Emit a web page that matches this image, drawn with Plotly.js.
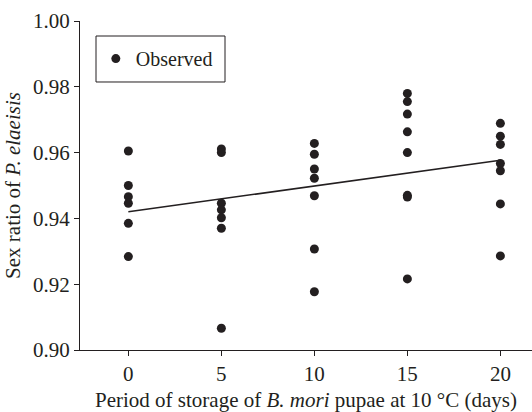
<!DOCTYPE html>
<html>
<head>
<meta charset="utf-8">
<script src="https://cdn.plot.ly/plotly-3.0.1.min.js"></script>
<style>html,body{margin:0;padding:0;background:#fff;}#chart{width:532px;height:412px;}</style>
</head>
<body>
<div id="chart"></div>
<script>
// Storage period (days) and observed sex ratios per group
const day0 = [0.9605, 0.9500, 0.9466, 0.9446, 0.9385, 0.9284];
const day5 = [0.9611, 0.9600, 0.9446, 0.9426, 0.9402, 0.9370, 0.9066];
const day10 = [0.9628, 0.9595, 0.9550, 0.9522, 0.9469, 0.9307, 0.9177];
const day15 = [0.9780, 0.9755, 0.9717, 0.9663, 0.9600, 0.9470, 0.9465, 0.9216];
const day20 = [0.9689, 0.9650, 0.9625, 0.9567, 0.9545, 0.9444, 0.9286];
const periods = [0, 5, 10, 15, 20];
const groups = [day0, day5, day10, day15, day20];
// Fitted regression line endpoints
const fitX = [0, 20];
const fitY = [0.9420, 0.9577];
const yTicks = [0.90, 0.92, 0.94, 0.96, 0.98, 1.00];

const obsX = [], obsY = [];
groups.forEach((g, i) => g.forEach(v => { obsX.push(periods[i]); obsY.push(v); }));

const ink = '#231f20';
const fam = '"Liberation Serif", "Times New Roman", serif';
const titleFont = {family: fam, size: 21, color: ink};
const tickFont = {family: fam, size: 21, color: ink};
const legFont = {family: fam, size: 20, color: ink};

const data = [
  {x: obsX, y: obsY, type: 'scatter', mode: 'markers', name: 'Observed',
   marker: {color: ink, size: 9}},
  {x: fitX, y: fitY, type: 'scatter', mode: 'lines', showlegend: false,
   line: {color: ink, width: 1.5}}
];

const layout = {
  width: 532, height: 412,
  margin: {l: 80, r: 0, t: 21, b: 62},
  paper_bgcolor: '#fff', plot_bgcolor: '#fff',
  font: titleFont,
  showlegend: true,
  legend: {x: 0.035, y: 0.945, xanchor: 'left', yanchor: 'top',
           borderwidth: 0, bgcolor: 'rgba(0,0,0,0)', font: legFont},
  shapes: [{type: 'rect', xref: 'paper', yref: 'paper', x0: 0.0354, x1: 0.3208, y0: 0.8146, y1: 0.9544,
            line: {color: ink, width: 1}, fillcolor: 'rgba(0,0,0,0)', layer: 'below'}],
  xaxis: {range: [-2.6, 21.7], tickvals: periods, ticks: 'outside', ticklen: 5,
          tickcolor: ink, showline: true, linecolor: ink, linewidth: 1, tickfont: tickFont,
          showgrid: false, zeroline: false, ticklabelstandoff: 0,
          title: {text: 'Period of storage of <i>B. mori</i> pupae at 10 °C (days)', font: titleFont, standoff: 10}},
  yaxis: {range: [0.90, 1.00], tickvals: yTicks, tickformat: '.2f', ticks: 'outside', ticklen: 5,
          tickcolor: ink, showline: true, linecolor: ink, linewidth: 1, tickfont: tickFont,
          showgrid: false, zeroline: false,
          title: {text: 'Sex ratio of <i>P. elaeisis</i>', font: titleFont, standoff: 6}}
};

Plotly.newPlot('chart', data, layout, {displayModeBar: false, staticPlot: true});
</script>
</body>
</html>
